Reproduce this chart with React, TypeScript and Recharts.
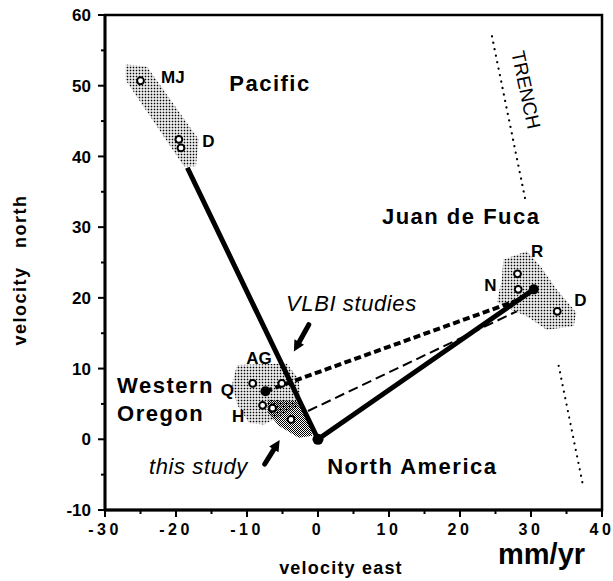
import React from 'react';
import { ScatterChart, Scatter, XAxis, YAxis, ReferenceArea } from 'recharts';

// axis ticks (every 5, labelled every 10)
const xTicks = [-30, -25, -20, -15, -10, -5, 0, 5, 10, 15, 20, 25, 30, 35, 40];
const yTicks = [-10, -5, 0, 5, 10, 15, 20, 25, 30, 35, 40, 45, 50, 55, 60];

// site velocities (mm/yr, east / north)
const pacificSites = [{ x: -25.0, y: 50.7 }, { x: -19.6, y: 42.4 }, { x: -19.3, y: 41.2 }];
const jdfSites = [{ x: 28.1, y: 23.4 }, { x: 28.2, y: 21.2 }, { x: 33.7, y: 18.1 }];
const oregonSites = [
    { x: -9.2, y: 7.9 },
    { x: -5.1, y: 7.9 },
    { x: -7.8, y: 4.8 },
    { x: -6.4, y: 4.4 },
    { x: -3.8, y: 2.8 },
];
const plateDots = [{ x: 0, y: 0, r: 5.5 }, { x: 30.4, y: 21.2, r: 5 }, { x: -7.4, y: 6.8, r: 5 }];

// vectors
const plateVectors = [{ x: -18.4, y: 38.4 }, { x: 0, y: 0 }, { x: 30.4, y: 21.2 }];
const vlbiHeavy = [{ x: -7.4, y: 6.8 }, { x: 28.5, y: 19.8 }];
const vlbiThin = [{ x: -1.4, y: 4.0 }, { x: 28.0, y: 18.1 }];
const trenchNorth = [{ x: 24.5, y: 57.0 }, { x: 29.2, y: 33.9 }];
const trenchSouth = [{ x: 33.9, y: 10.4 }, { x: 37.4, y: -6.9 }];
const vlbiArrow = [{ x: -1.3, y: 16.2 }, { x: -3.4, y: 12.4 }];
const studyArrow = [{ x: -7.5, y: -3.5 }, { x: -5.4, y: -0.1 }];

// error regions (stippled)
const pacificRegion = [
    { x: -27.1, y: 53.0 }, { x: -24.1, y: 52.7 }, { x: -16.8, y: 42.4 },
    { x: -17.2, y: 38.6 }, { x: -18.9, y: 38.6 }, { x: -27.1, y: 50.8 },
];
const jdfRegion = [
    { x: 26.1, y: 25.4 }, { x: 29.4, y: 26.6 }, { x: 31.3, y: 24.5 }, { x: 33.6, y: 21.2 },
    { x: 36.4, y: 17.9 }, { x: 36.0, y: 16.0 }, { x: 32.2, y: 15.5 }, { x: 29.4, y: 17.4 },
    { x: 27.0, y: 18.4 }, { x: 25.2, y: 19.4 }, { x: 25.9, y: 22.6 },
];
const oregonRegion = [
    { x: -11.4, y: 10.5 }, { x: -4.4, y: 10.7 }, { x: -2.7, y: 8.5 }, { x: -2.4, y: 4.9 },
    { x: -7.6, y: 2.1 }, { x: -9.7, y: 2.3 }, { x: -11.4, y: 4.9 }, { x: -12.1, y: 7.8 },
];
const studyRegion = [
    { x: -7.1, y: 5.6 }, { x: -3.1, y: 5.4 }, { x: -1.3, y: 2.8 }, { x: -0.8, y: 0.5 },
    { x: -2.7, y: 0.2 }, { x: -5.5, y: 1.9 }, { x: -7.1, y: 3.8 },
];

// text annotations
const plateLabels = [
    { x: -12.5, y: 49.2, text: 'Pacific' },
    { x: 9.0, y: 30.4, text: 'Juan de Fuca' },
    { x: 1.3, y: -4.9, text: 'North America' },
    { x: -28.3, y: 6.5, text: 'Western' },
    { x: -28.3, y: 2.6, text: 'Oregon' },
];
const noteLabels = [
    { x: -4.5, y: 18.2, text: 'VLBI studies' },
    { x: -23.8, y: -4.9, text: 'this study' },
];
const siteLabels = [
    { x: -22.1, y: 50.4, text: 'MJ' },
    { x: -16.3, y: 41.4, text: 'D' },
    { x: 30.0, y: 25.8, text: 'R' },
    { x: 23.4, y: 20.9, text: 'N' },
    { x: 36.1, y: 18.8, text: 'D' },
    { x: -10.1, y: 10.6, text: 'AG' },
    { x: -13.7, y: 6.1, text: 'Q' },
    { x: -12.1, y: 2.4, text: 'H' },
];
const trenchLabel = [{ x: 29.3, y: 49.4, text: 'TRENCH' }];

const FONT = '"Liberation Sans", Arial, Helvetica, sans-serif';
const none = () => <g />;

const polygon = (fill: string) => (props: any) => {
    const pts = props.points || [];
    const d = pts.map((p: any, i: number) => `${i ? 'L' : 'M'}${p.x},${p.y}`).join('') + 'Z';
    return <path d={d} fill={fill} stroke="none" />;
};

const arrow = (props: any) => {
    const [a, b] = props.points;
    const dx = b.x - a.x;
    const dy = b.y - a.y;
    const len = Math.hypot(dx, dy);
    const ux = dx / len;
    const uy = dy / len;
    const hx = b.x - ux * 11;
    const hy = b.y - uy * 11;
    return (
        <g>
            <line x1={a.x} y1={a.y} x2={hx} y2={hy} stroke="#000" strokeWidth={5} strokeLinecap="round" />
            <path d={`M${b.x},${b.y}L${hx - uy * 5.5},${hy + ux * 5.5}L${hx + uy * 5.5},${hy - ux * 5.5}Z`} fill="#000" />
        </g>
    );
};

const XTick = ({ x, y, payload }: any) => {
    const major = payload.value % 10 === 0;
    return (
        <g>
            <line x1={x} y1={y} x2={x} y2={y + (major ? 7 : 4)} stroke="#000" strokeWidth={2} />
            {major && (
                <text x={x} y={y + 25} textAnchor="middle" fontFamily={FONT} fontWeight="bold" fontSize={16} letterSpacing={3.5} fill="#000">
                    {payload.value}
                </text>
            )}
        </g>
    );
};

const YTick = ({ x, y, payload }: any) => {
    const major = payload.value % 10 === 0;
    return (
        <g>
            <line x1={x} y1={y} x2={x - (major ? 7 : 4)} y2={y} stroke="#000" strokeWidth={2} />
            {major && (
                <text x={x - 14} y={y} dy="0.36em" textAnchor="end" fontFamily={FONT} fontWeight="bold" fontSize={17} fill="#000">
                    {payload.value}
                </text>
            )}
        </g>
    );
};

const textShape = (size: number, weight: string, style: string, spacing: number) => (p: any) => (
    <text x={p.cx} y={p.cy} fontFamily={FONT} fontSize={size} fontWeight={weight} fontStyle={style} letterSpacing={spacing} fill="#000">
        {p.payload.text}
    </text>
);

const XLabel = (props: any) => {
    const vb = props.viewBox;
    return (
        <g fontFamily={FONT} fontWeight="bold" fill="#000">
            <text x={vb.x + 236} y={vb.y + 64} textAnchor="middle" fontSize={18} letterSpacing={1.2}>velocity east</text>
            <text x={vb.x + 393} y={vb.y + 54} fontSize={29}>mm/yr</text>
        </g>
    );
};

const YLabel = (props: any) => {
    const vb = props.viewBox;
    const cx = vb.x + 20;
    const cy = vb.y + 255;
    return (
        <text x={cx} y={cy} transform={`rotate(-90 ${cx} ${cy})`} textAnchor="middle" dy="0.35em" fontFamily={FONT} fontWeight="bold" fontSize={18} letterSpacing={1.5} wordSpacing={12} fill="#000">
            velocity north
        </text>
    );
};

export default function App() {
    return (
        <div style={{ position: 'absolute', left: 0, top: 0, width: 613, height: 581, background: '#fff' }}>
            <ScatterChart width={613} height={581} margin={{ top: 15, right: 11, left: 0, bottom: 0 }}>
                <defs>
                    <pattern id="stipple" width="3" height="3" patternUnits="userSpaceOnUse">
                        <rect x="0.7" y="0.7" width="1.6" height="1.6" fill="#000" />
                    </pattern>
                    <pattern id="stippleDense" width="2" height="2" patternUnits="userSpaceOnUse">
                        <rect width="1" height="1" fill="#000" shapeRendering="crispEdges" />
                        <rect x="1" y="1" width="1" height="1" fill="#000" shapeRendering="crispEdges" />
                    </pattern>
                </defs>
                <XAxis
                    dataKey="x"
                    type="number"
                    domain={[-30, 40]}
                    ticks={xTicks}
                    interval={0}
                    height={71}
                    tickSize={0}
                    tickMargin={0}
                    tickLine={false}
                    tick={<XTick />}
                    axisLine={{ stroke: '#000', strokeWidth: 2.8 }}
                    label={<XLabel />}
                />
                <YAxis
                    dataKey="y"
                    type="number"
                    domain={[-10, 60]}
                    ticks={yTicks}
                    interval={0}
                    width={105}
                    tickSize={0}
                    tickMargin={0}
                    tickLine={false}
                    tick={<YTick />}
                    axisLine={{ stroke: '#000', strokeWidth: 2.8 }}
                    label={<YLabel />}
                />
                <ReferenceArea x1={-30} x2={40} y1={-10} y2={60} fill="none" stroke="#000" strokeWidth={2.5} />

                <Scatter data={pacificRegion} line={polygon('url(#stipple)')} shape={none} isAnimationActive={false} />
                <Scatter data={jdfRegion} line={polygon('url(#stipple)')} shape={none} isAnimationActive={false} />
                <Scatter data={oregonRegion} line={polygon('url(#stipple)')} shape={none} isAnimationActive={false} />
                <Scatter data={studyRegion} line={polygon('url(#stippleDense)')} shape={none} isAnimationActive={false} />

                <Scatter data={trenchNorth} line={{ stroke: '#000', strokeWidth: 2.2, strokeDasharray: '0.1 6.5', strokeLinecap: 'round' }} shape={none} isAnimationActive={false} />
                <Scatter data={trenchSouth} line={{ stroke: '#000', strokeWidth: 2.2, strokeDasharray: '0.1 6.5', strokeLinecap: 'round' }} shape={none} isAnimationActive={false} />

                <Scatter data={vlbiThin} line={{ stroke: '#000', strokeWidth: 2, strokeDasharray: '10 5' }} shape={none} isAnimationActive={false} />
                <Scatter data={vlbiHeavy} line={{ stroke: '#000', strokeWidth: 4, strokeDasharray: '7 3.5' }} shape={none} isAnimationActive={false} />
                <Scatter data={plateVectors} line={{ stroke: '#000', strokeWidth: 5, strokeLinejoin: 'round' }} shape={none} isAnimationActive={false} />

                <Scatter data={vlbiArrow} line={arrow} shape={none} isAnimationActive={false} />
                <Scatter data={studyArrow} line={arrow} shape={none} isAnimationActive={false} />

                {[pacificSites, jdfSites, oregonSites].map((d, i) => (
                    <Scatter
                        key={i}
                        data={d}
                        shape={(p: any) => <circle cx={p.cx} cy={p.cy} r={3.4} fill="#fff" stroke="#000" strokeWidth={2} />}
                        isAnimationActive={false}
                    />
                ))}
                <Scatter data={plateDots} shape={(p: any) => <circle cx={p.cx} cy={p.cy} r={p.payload.r} fill="#000" />} isAnimationActive={false} />

                <Scatter data={plateLabels} shape={textShape(22, 'bold', 'normal', 1.5)} isAnimationActive={false} />
                <Scatter data={noteLabels} shape={textShape(22, 'normal', 'italic', 0.6)} isAnimationActive={false} />
                <Scatter data={siteLabels} shape={textShape(17, 'bold', 'normal', 0)} isAnimationActive={false} />
                <Scatter
                    data={trenchLabel}
                    shape={(p: any) => (
                        <text x={p.cx} y={p.cy} transform={`rotate(78 ${p.cx} ${p.cy})`} textAnchor="middle" dy="0.35em" fontFamily={FONT} fontSize={19} fill="#000">
                            {p.payload.text}
                        </text>
                    )}
                    isAnimationActive={false}
                />
            </ScatterChart>
        </div>
    );
}
